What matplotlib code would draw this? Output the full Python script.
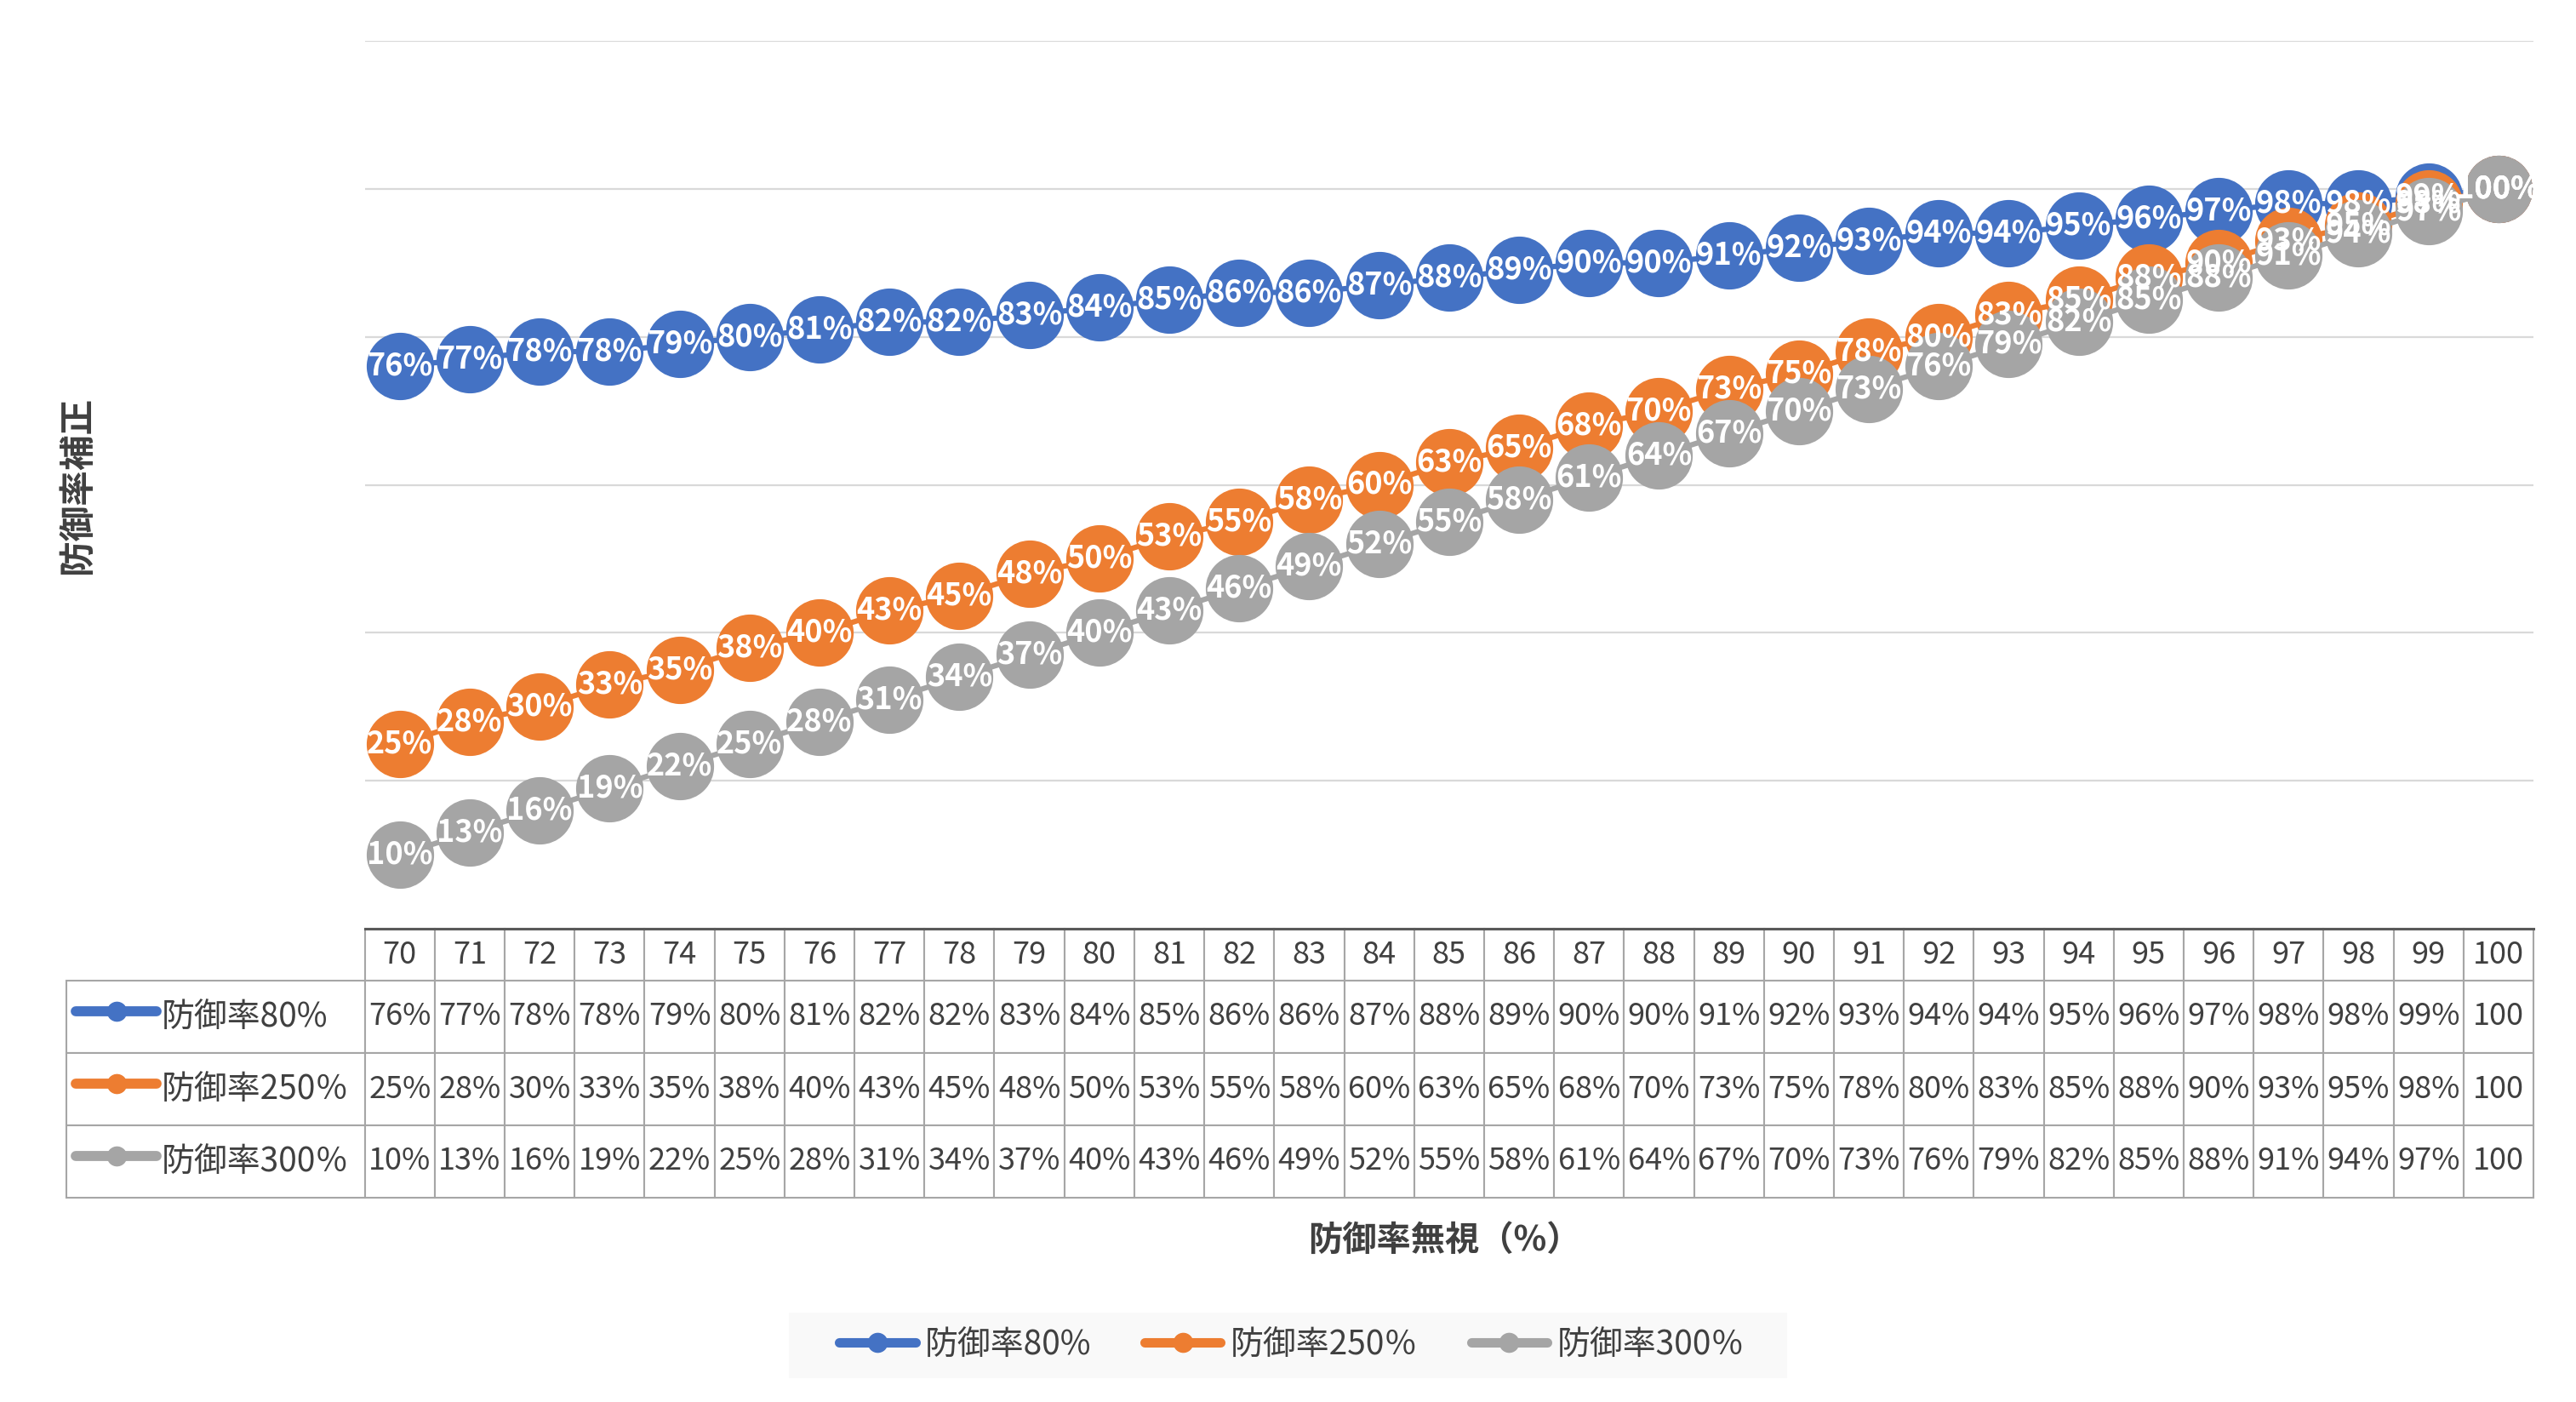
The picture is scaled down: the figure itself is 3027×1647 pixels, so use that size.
import matplotlib
matplotlib.use("Agg")
import matplotlib.pyplot as plt
from matplotlib.lines import Line2D
from matplotlib.patches import Rectangle
from matplotlib.table import Table

plt.rcParams['font.family'] = ['Noto Sans CJK JP', 'DejaVu Sans']

# データ
x_vals = [70, 71, 72, 73, 74, 75, 76, 77, 78, 79, 80, 81, 82, 83, 84, 85,
          86, 87, 88, 89, 90, 91, 92, 93, 94, 95, 96, 97, 98, 99, 100]
def80 = [76, 77, 78, 78, 79, 80, 81, 82, 82, 83, 84, 85, 86, 86, 87, 88,
         89, 90, 90, 91, 92, 93, 94, 94, 95, 96, 97, 98, 98, 99, 100]
def250 = [25, 28, 30, 33, 35, 38, 40, 43, 45, 48, 50, 53, 55, 58, 60, 63,
          65, 68, 70, 73, 75, 78, 80, 83, 85, 88, 90, 93, 95, 98, 100]
def300 = [10, 13, 16, 19, 22, 25, 28, 31, 34, 37, 40, 43, 46, 49, 52, 55,
          58, 61, 64, 67, 70, 73, 76, 79, 82, 85, 88, 91, 94, 97, 100]
names = ['防御率80%', '防御率250％', '防御率300％']
colors = ['#4472C4', '#ED7D31', '#A5A5A5']
series = [def80, def250, def300]

txt_color = '#404040'
W, H = 3027, 1647

fig = plt.figure(figsize=(W / 100, H / 100), dpi=100)
ax = fig.add_axes([428.6 / W, 1 - 1091 / H, 2548.4 / W, 1043 / H])

xi = list(range(len(x_vals)))
for vals, c in zip(series, colors):
    ax.plot(xi, vals, color=c, lw=4.5, marker='o', ms=56, mfc=c, mec=c,
            clip_on=False, zorder=3)

# データラベル（全系列の上に描画）
for vals in series:
    for i, v in zip(xi, vals):
        ax.text(i, v, f'{v}%', ha='center', va='center', color='white',
                fontsize=26, fontweight='bold', zorder=5)

ax.set_xlim(-0.5, len(x_vals) - 0.5)
ax.set_ylim(0, 120)
ax.set_xticks([])
ax.set_yticks([20, 40, 60, 80, 100, 120])
ax.tick_params(left=False, labelleft=False)
ax.grid(axis='y', color='#D9D9D9', lw=1.6)
ax.set_axisbelow(True)
for s in ['top', 'right', 'left']:
    ax.spines[s].set_visible(False)
ax.spines['bottom'].set_color('#595959')
ax.spines['bottom'].set_linewidth(2.2)
ax.spines['bottom'].set_zorder(4)

ax.set_ylabel('防御率補正', fontsize=30, fontweight='bold', color=txt_color)
ax.yaxis.set_label_coords((112 - 428.6) / 2548.4, 0.5)

# データテーブル
def fmt(v):
    # 列幅が狭く "100%" は "100" と表示される
    return '100' if v == 100 else f'{v}%'

tbl = Table(ax, bbox=[(78 - 428.6) / 2548.4, -316 / 1043,
                      1 + (428.6 - 78) / 2548.4, 316 / 1043])
edge = '#A6A6A6'
for j, x in enumerate(x_vals):
    tbl.add_cell(0, j + 1, 82.2, 61, text=str(x), loc='center',
                 edgecolor=edge)
label_cells = []
for r, (name, vals) in enumerate(zip(names, series), start=1):
    cell = tbl.add_cell(r, 0, 350.6, 85, text=name, loc='left',
                        edgecolor=edge)
    cell.PAD = 112 / 350.6
    label_cells.append(cell)
    for j, v in enumerate(vals):
        tbl.add_cell(r, j + 1, 82.2, 85, text=fmt(v), loc='center',
                     edgecolor=edge)
tbl.auto_set_font_size(False)
tbl.set_fontsize(26)
for cell in tbl.get_celld().values():
    cell.set_linewidth(1.5)
    cell.get_text().set_color(txt_color)
for cell in label_cells:
    cell.get_text().set_fontsize(28)
ax.add_table(tbl)

# テーブル内の凡例キー
for k, c in enumerate(colors):
    yc = 1 - (1188 + 85 * k) / H
    fig.add_artist(Line2D([89 / W, 136.5 / W, 184 / W], [yc, yc, yc],
                          transform=fig.transFigure, color=c, lw=8.5,
                          solid_capstyle='round', marker='o', ms=16,
                          markevery=[1]))

fig.text(1697 / W, 1 - 1457 / H, '防御率無視（%）', ha='center', va='center',
         fontsize=29, fontweight='bold', color=txt_color)

# 凡例
fig.add_artist(Rectangle((927 / W, 1 - 1619 / H), 1173 / W, 77 / H,
                         transform=fig.transFigure, facecolor='#F9F9F9',
                         edgecolor='none', zorder=0))
handles = [Line2D([], [], color=c, lw=8, marker='o', ms=16,
                  solid_capstyle='round') for c in colors]
fig.legend(handles, names, loc='center', bbox_to_anchor=(1518 / W, 1 - 1580 / H),
           ncol=3, frameon=False, fontsize=28, labelcolor=txt_color,
           handlelength=2.3, handletextpad=0.3, columnspacing=1.6)

fig.savefig('out.png', dpi=100)
